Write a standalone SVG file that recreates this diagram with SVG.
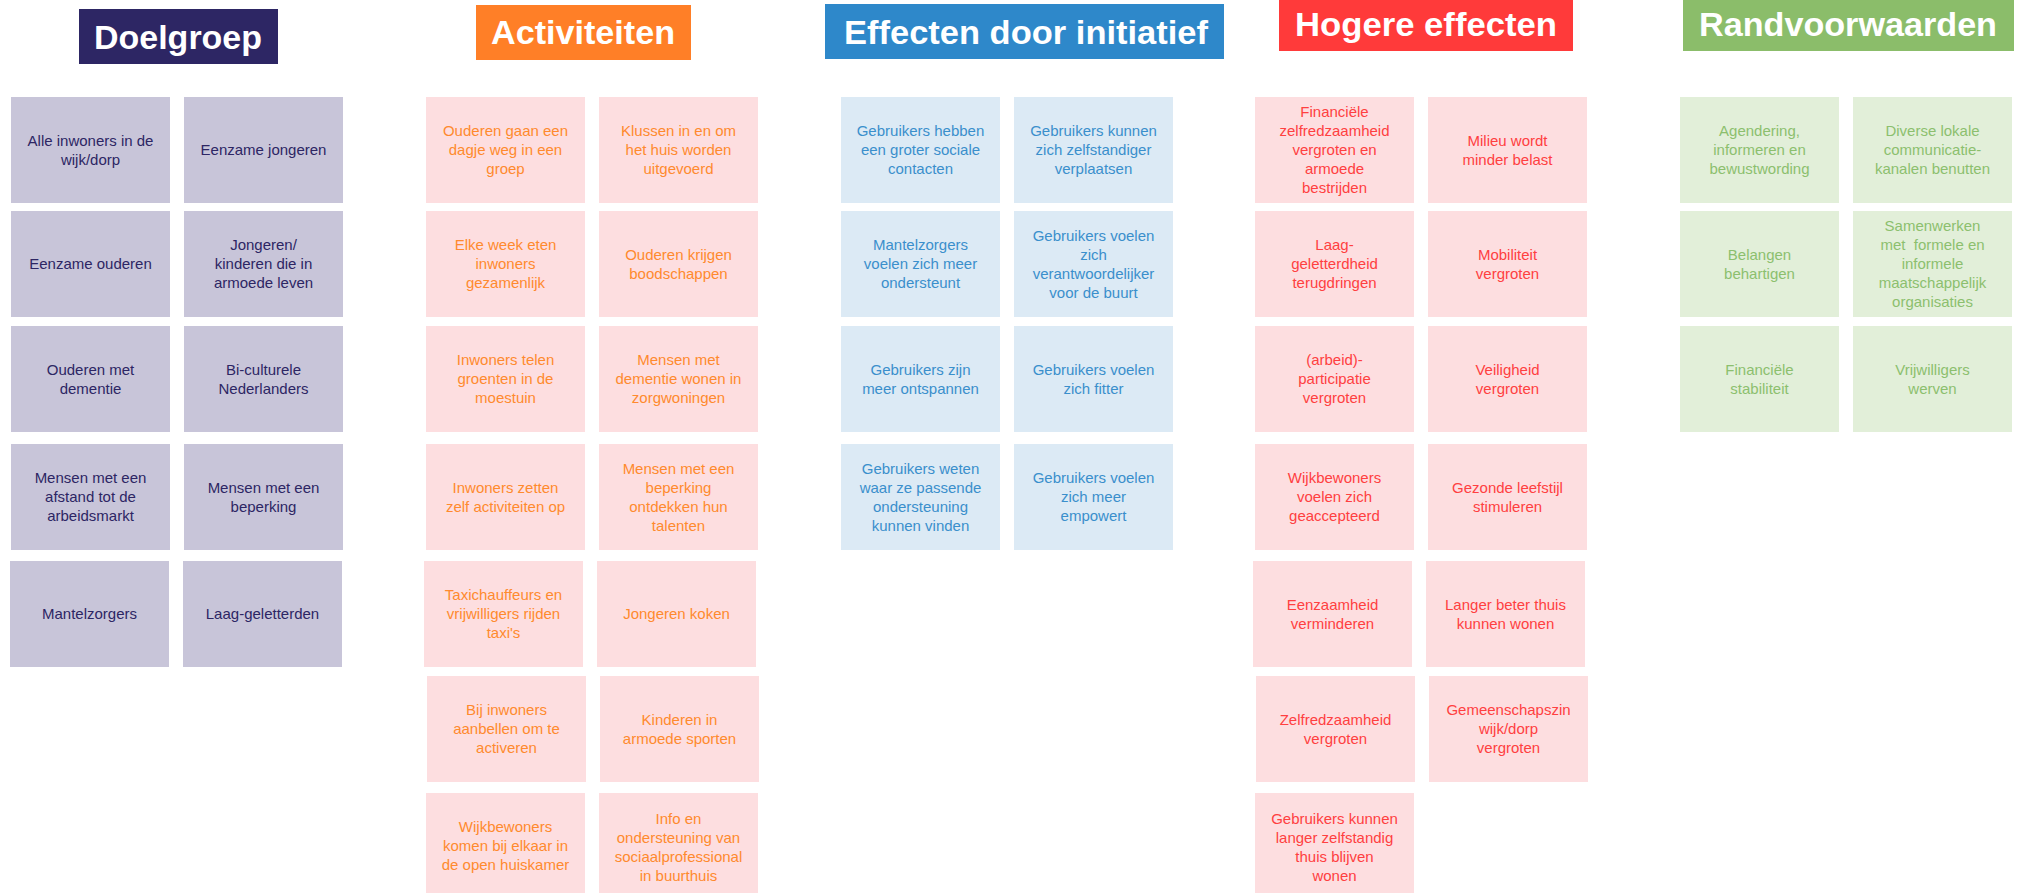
<svg xmlns="http://www.w3.org/2000/svg" width="2022" height="894" viewBox="0 0 2022 894">
<style>
.hd{font-family:"Liberation Sans",Arial,sans-serif;font-weight:bold;fill:#ffffff;text-anchor:middle}
.t{font-family:"Liberation Sans",Arial,sans-serif;font-size:15px;text-anchor:middle}
.dg rect{fill:#C8C5D9}.dg text{fill:#2D2664}
.ac rect{fill:#FDDEE0}.ac text{fill:#FF8A2E}
.ef rect{fill:#DCEAF5}.ef text{fill:#3A8FCC}
.ho rect{fill:#FDDEE0}.ho text{fill:#FF4040}
.rv rect{fill:#E2EFD9}.rv text{fill:#8CBF6E}
</style>
<rect width="2022" height="894" fill="#ffffff"/>

<!-- Headers -->
<g id="hdr-doelgroep"><rect x="79" y="9" width="199" height="55" fill="#2D2664"/><text class="hd" x="178" y="49" font-size="34" textLength="168" lengthAdjust="spacingAndGlyphs">Doelgroep</text></g>
<g id="hdr-activiteiten"><rect x="476" y="5" width="215" height="55" fill="#FF7F27"/><text class="hd" x="583" y="44" font-size="33" textLength="184" lengthAdjust="spacingAndGlyphs">Activiteiten</text></g>
<g id="hdr-effecten"><rect x="825" y="4" width="399" height="55" fill="#2E88CA"/><text class="hd" x="1026" y="44" font-size="34" textLength="364" lengthAdjust="spacingAndGlyphs">Effecten door initiatief</text></g>
<g id="hdr-hogere"><rect x="1279" y="0" width="294" height="51" fill="#FF3A3A"/><text class="hd" x="1426" y="36" font-size="33" textLength="262" lengthAdjust="spacingAndGlyphs">Hogere effecten</text></g>
<g id="hdr-rand"><rect x="1683" y="0" width="331" height="51" fill="#8BBD6A"/><text class="hd" x="1848" y="36" font-size="33" textLength="298" lengthAdjust="spacingAndGlyphs">Randvoorwaarden</text></g>

<!-- Doelgroep -->
<g class="dg">
<g id="dg1"><rect x="11" y="97" width="159" height="106"/><text class="t" x="90.5" y="145.5">Alle inwoners in de<tspan x="90.5" dy="19">wijk/dorp</tspan></text></g>
<g id="dg2"><rect x="184" y="97" width="159" height="106"/><text class="t" x="263.5" y="155">Eenzame jongeren</text></g>
<g id="dg3"><rect x="11" y="211" width="159" height="106"/><text class="t" x="90.5" y="269">Eenzame ouderen</text></g>
<g id="dg4"><rect x="184" y="211" width="159" height="106"/><text class="t" x="263.5" y="250">Jongeren/<tspan x="263.5" dy="19">kinderen die in</tspan><tspan x="263.5" dy="19">armoede leven</tspan></text></g>
<g id="dg5"><rect x="11" y="326" width="159" height="106"/><text class="t" x="90.5" y="374.5">Ouderen met<tspan x="90.5" dy="19">dementie</tspan></text></g>
<g id="dg6"><rect x="184" y="326" width="159" height="106"/><text class="t" x="263.5" y="374.5">Bi-culturele<tspan x="263.5" dy="19">Nederlanders</tspan></text></g>
<g id="dg7"><rect x="11" y="444" width="159" height="106"/><text class="t" x="90.5" y="483">Mensen met een<tspan x="90.5" dy="19">afstand tot de</tspan><tspan x="90.5" dy="19">arbeidsmarkt</tspan></text></g>
<g id="dg8"><rect x="184" y="444" width="159" height="106"/><text class="t" x="263.5" y="492.5">Mensen met een<tspan x="263.5" dy="19">beperking</tspan></text></g>
<g id="dg9"><rect x="10" y="561" width="159" height="106"/><text class="t" x="89.5" y="619">Mantelzorgers</text></g>
<g id="dg10"><rect x="183" y="561" width="159" height="106"/><text class="t" x="262.5" y="619">Laag-geletterden</text></g>
</g>

<!-- Activiteiten -->
<g class="ac">
<g id="ac1"><rect x="426" y="97" width="159" height="106"/><text class="t" x="505.5" y="136">Ouderen gaan een<tspan x="505.5" dy="19">dagje weg in een</tspan><tspan x="505.5" dy="19">groep</tspan></text></g>
<g id="ac2"><rect x="599" y="97" width="159" height="106"/><text class="t" x="678.5" y="136">Klussen in en om<tspan x="678.5" dy="19">het huis worden</tspan><tspan x="678.5" dy="19">uitgevoerd</tspan></text></g>
<g id="ac3"><rect x="426" y="211" width="159" height="106"/><text class="t" x="505.5" y="250">Elke week eten<tspan x="505.5" dy="19">inwoners</tspan><tspan x="505.5" dy="19">gezamenlijk</tspan></text></g>
<g id="ac4"><rect x="599" y="211" width="159" height="106"/><text class="t" x="678.5" y="259.5">Ouderen krijgen<tspan x="678.5" dy="19">boodschappen</tspan></text></g>
<g id="ac5"><rect x="426" y="326" width="159" height="106"/><text class="t" x="505.5" y="365">Inwoners telen<tspan x="505.5" dy="19">groenten in de</tspan><tspan x="505.5" dy="19">moestuin</tspan></text></g>
<g id="ac6"><rect x="599" y="326" width="159" height="106"/><text class="t" x="678.5" y="365">Mensen met<tspan x="678.5" dy="19">dementie wonen in</tspan><tspan x="678.5" dy="19">zorgwoningen</tspan></text></g>
<g id="ac7"><rect x="426" y="444" width="159" height="106"/><text class="t" x="505.5" y="492.5">Inwoners zetten<tspan x="505.5" dy="19">zelf activiteiten op</tspan></text></g>
<g id="ac8"><rect x="599" y="444" width="159" height="106"/><text class="t" x="678.5" y="473.5">Mensen met een<tspan x="678.5" dy="19">beperking</tspan><tspan x="678.5" dy="19">ontdekken hun</tspan><tspan x="678.5" dy="19">talenten</tspan></text></g>
<g id="ac9"><rect x="424" y="561" width="159" height="106"/><text class="t" x="503.5" y="600">Taxichauffeurs en<tspan x="503.5" dy="19">vrijwilligers rijden</tspan><tspan x="503.5" dy="19">taxi's</tspan></text></g>
<g id="ac10"><rect x="597" y="561" width="159" height="106"/><text class="t" x="676.5" y="619">Jongeren koken</text></g>
<g id="ac11"><rect x="427" y="676" width="159" height="106"/><text class="t" x="506.5" y="715">Bij inwoners<tspan x="506.5" dy="19">aanbellen om te</tspan><tspan x="506.5" dy="19">activeren</tspan></text></g>
<g id="ac12"><rect x="600" y="676" width="159" height="106"/><text class="t" x="679.5" y="724.5">Kinderen in<tspan x="679.5" dy="19">armoede sporten</tspan></text></g>
<g id="ac13"><rect x="426" y="793" width="159" height="100"/><text class="t" x="505.5" y="832">Wijkbewoners<tspan x="505.5" dy="19">komen bij elkaar in</tspan><tspan x="505.5" dy="19">de open huiskamer</tspan></text></g>
<g id="ac14"><rect x="599" y="793" width="159" height="100"/><text class="t" x="678.5" y="823.5">Info en<tspan x="678.5" dy="19">ondersteuning van</tspan><tspan x="678.5" dy="19">sociaalprofessional</tspan><tspan x="678.5" dy="19">in buurthuis</tspan></text></g>
</g>

<!-- Effecten door initiatief -->
<g class="ef">
<g id="ef1"><rect x="841" y="97" width="159" height="106"/><text class="t" x="920.5" y="136">Gebruikers hebben<tspan x="920.5" dy="19">een groter sociale</tspan><tspan x="920.5" dy="19">contacten</tspan></text></g>
<g id="ef2"><rect x="1014" y="97" width="159" height="106"/><text class="t" x="1093.5" y="136">Gebruikers kunnen<tspan x="1093.5" dy="19">zich zelfstandiger</tspan><tspan x="1093.5" dy="19">verplaatsen</tspan></text></g>
<g id="ef3"><rect x="841" y="211" width="159" height="106"/><text class="t" x="920.5" y="250">Mantelzorgers<tspan x="920.5" dy="19">voelen zich meer</tspan><tspan x="920.5" dy="19">ondersteunt</tspan></text></g>
<g id="ef4"><rect x="1014" y="211" width="159" height="106"/><text class="t" x="1093.5" y="240.5">Gebruikers voelen<tspan x="1093.5" dy="19">zich</tspan><tspan x="1093.5" dy="19">verantwoordelijker</tspan><tspan x="1093.5" dy="19">voor de buurt</tspan></text></g>
<g id="ef5"><rect x="841" y="326" width="159" height="106"/><text class="t" x="920.5" y="374.5">Gebruikers zijn<tspan x="920.5" dy="19">meer ontspannen</tspan></text></g>
<g id="ef6"><rect x="1014" y="326" width="159" height="106"/><text class="t" x="1093.5" y="374.5">Gebruikers voelen<tspan x="1093.5" dy="19">zich fitter</tspan></text></g>
<g id="ef7"><rect x="841" y="444" width="159" height="106"/><text class="t" x="920.5" y="473.5">Gebruikers weten<tspan x="920.5" dy="19">waar ze passende</tspan><tspan x="920.5" dy="19">ondersteuning</tspan><tspan x="920.5" dy="19">kunnen vinden</tspan></text></g>
<g id="ef8"><rect x="1014" y="444" width="159" height="106"/><text class="t" x="1093.5" y="483">Gebruikers voelen<tspan x="1093.5" dy="19">zich meer</tspan><tspan x="1093.5" dy="19">empowert</tspan></text></g>
</g>

<!-- Hogere effecten -->
<g class="ho">
<g id="ho1"><rect x="1255" y="97" width="159" height="106"/><text class="t" x="1334.5" y="117">Financiële<tspan x="1334.5" dy="19">zelfredzaamheid</tspan><tspan x="1334.5" dy="19">vergroten en</tspan><tspan x="1334.5" dy="19">armoede</tspan><tspan x="1334.5" dy="19">bestrijden</tspan></text></g>
<g id="ho2"><rect x="1428" y="97" width="159" height="106"/><text class="t" x="1507.5" y="145.5">Milieu wordt<tspan x="1507.5" dy="19">minder belast</tspan></text></g>
<g id="ho3"><rect x="1255" y="211" width="159" height="106"/><text class="t" x="1334.5" y="250">Laag-<tspan x="1334.5" dy="19">geletterdheid</tspan><tspan x="1334.5" dy="19">terugdringen</tspan></text></g>
<g id="ho4"><rect x="1428" y="211" width="159" height="106"/><text class="t" x="1507.5" y="259.5">Mobiliteit<tspan x="1507.5" dy="19">vergroten</tspan></text></g>
<g id="ho5"><rect x="1255" y="326" width="159" height="106"/><text class="t" x="1334.5" y="365">(arbeid)-<tspan x="1334.5" dy="19">participatie</tspan><tspan x="1334.5" dy="19">vergroten</tspan></text></g>
<g id="ho6"><rect x="1428" y="326" width="159" height="106"/><text class="t" x="1507.5" y="374.5">Veiligheid<tspan x="1507.5" dy="19">vergroten</tspan></text></g>
<g id="ho7"><rect x="1255" y="444" width="159" height="106"/><text class="t" x="1334.5" y="483">Wijkbewoners<tspan x="1334.5" dy="19">voelen zich</tspan><tspan x="1334.5" dy="19">geaccepteerd</tspan></text></g>
<g id="ho8"><rect x="1428" y="444" width="159" height="106"/><text class="t" x="1507.5" y="492.5">Gezonde leefstijl<tspan x="1507.5" dy="19">stimuleren</tspan></text></g>
<g id="ho9"><rect x="1253" y="561" width="159" height="106"/><text class="t" x="1332.5" y="609.5">Eenzaamheid<tspan x="1332.5" dy="19">verminderen</tspan></text></g>
<g id="ho10"><rect x="1426" y="561" width="159" height="106"/><text class="t" x="1505.5" y="609.5">Langer beter thuis<tspan x="1505.5" dy="19">kunnen wonen</tspan></text></g>
<g id="ho11"><rect x="1256" y="676" width="159" height="106"/><text class="t" x="1335.5" y="724.5">Zelfredzaamheid<tspan x="1335.5" dy="19">vergroten</tspan></text></g>
<g id="ho12"><rect x="1429" y="676" width="159" height="106"/><text class="t" x="1508.5" y="715">Gemeenschapszin<tspan x="1508.5" dy="19">wijk/dorp</tspan><tspan x="1508.5" dy="19">vergroten</tspan></text></g>
<g id="ho13"><rect x="1255" y="793" width="159" height="100"/><text class="t" x="1334.5" y="823.5">Gebruikers kunnen<tspan x="1334.5" dy="19">langer zelfstandig</tspan><tspan x="1334.5" dy="19">thuis blijven</tspan><tspan x="1334.5" dy="19">wonen</tspan></text></g>
</g>

<!-- Randvoorwaarden -->
<g class="rv">
<g id="rv1"><rect x="1680" y="97" width="159" height="106"/><text class="t" x="1759.5" y="136">Agendering,<tspan x="1759.5" dy="19">informeren en</tspan><tspan x="1759.5" dy="19">bewustwording</tspan></text></g>
<g id="rv2"><rect x="1853" y="97" width="159" height="106"/><text class="t" x="1932.5" y="136">Diverse lokale<tspan x="1932.5" dy="19">communicatie-</tspan><tspan x="1932.5" dy="19">kanalen benutten</tspan></text></g>
<g id="rv3"><rect x="1680" y="211" width="159" height="106"/><text class="t" x="1759.5" y="259.5">Belangen<tspan x="1759.5" dy="19">behartigen</tspan></text></g>
<g id="rv4"><rect x="1853" y="211" width="159" height="106"/><text class="t" x="1932.5" y="231" xml:space="preserve">Samenwerken<tspan x="1932.5" dy="19">met  formele en</tspan><tspan x="1932.5" dy="19">informele</tspan><tspan x="1932.5" dy="19">maatschappelijk</tspan><tspan x="1932.5" dy="19">organisaties</tspan></text></g>
<g id="rv5"><rect x="1680" y="326" width="159" height="106"/><text class="t" x="1759.5" y="374.5">Financiële<tspan x="1759.5" dy="19">stabiliteit</tspan></text></g>
<g id="rv6"><rect x="1853" y="326" width="159" height="106"/><text class="t" x="1932.5" y="374.5">Vrijwilligers<tspan x="1932.5" dy="19">werven</tspan></text></g>
</g>
</svg>
